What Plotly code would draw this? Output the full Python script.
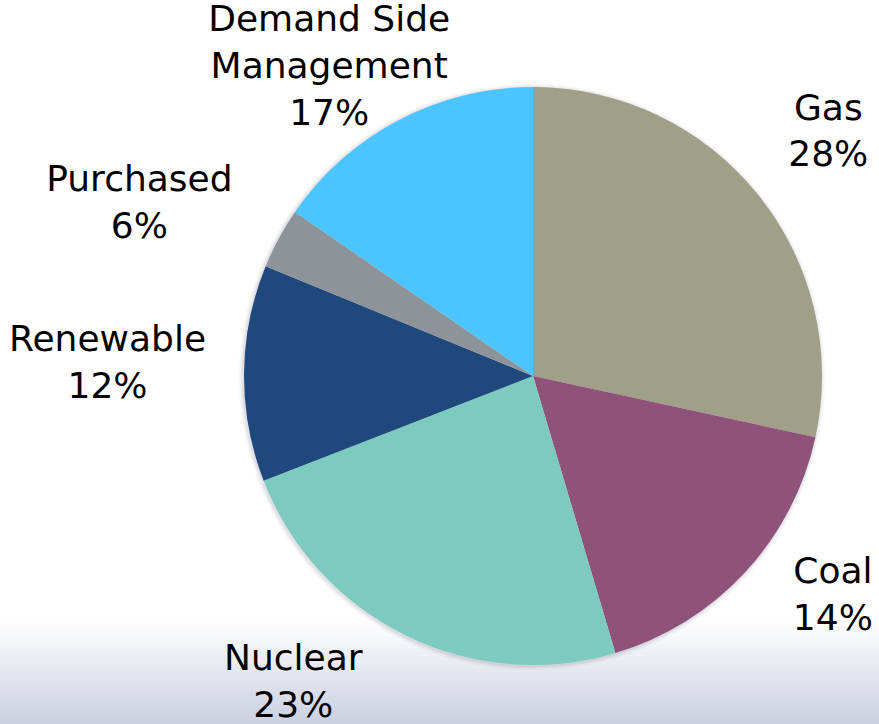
import plotly.graph_objects as go

# ---- data ----
categories = ["Gas", "Coal", "Nuclear", "Renewable", "Purchased", "Demand Side<br>Management"]
shares = [28.4, 17.0, 23.7, 12.1, 3.4, 15.4]          # visual slice sizes
pct_labels = ["28%", "14%", "23%", "12%", "6%", "17%"]  # printed labels
colors = ["#A09F88", "#8F527A", "#7DCBBF", "#1F487C", "#8E9399", "#4CC4FF"]

# ---- layout geometry (styles) ----
W, H = 879, 724
cx, cy, r = 533, 376, 289
label_gap = [30, 30, 30, 30, 30, -50]   # distance of each label ring from the pie edge
# per-label nudges (px right, px down) of the label ring centre
label_nudge = [(-15, -28), (4, -19), (-8, -17), (14, -11), (2, -12), (62, -46)]


def dom(rad, ox=0, oy=0):
    return dict(x=[(cx + ox - rad) / W, (cx + ox + rad) / W],
                y=[1 - (cy + oy + rad) / H, 1 - (cy + oy - rad) / H])


fig = go.Figure()

# soft shadow rings behind the pie
for extra, alpha in [(4, 0.05), (2.5, 0.06), (1.2, 0.08)]:
    fig.add_trace(go.Pie(values=[1], domain=dom(r + extra, -1, 1), sort=False,
                         marker=dict(colors=[f"rgba(90,90,110,{alpha})"], line=dict(width=0)),
                         textinfo="none", hoverinfo="skip", showlegend=False))

names = [c.replace("<br>", " ") for c in categories]

# visible pie
fig.add_trace(go.Pie(
    values=shares, labels=names,
    domain=dom(r), sort=False, direction="clockwise", rotation=0,
    marker=dict(colors=colors, line=dict(width=0)),
    textinfo="none", hoverinfo="label+percent", showlegend=False))

# transparent pies carrying the outside labels (one per label)
for i in range(len(shares)):
    txt = [f"{categories[i]}<br>{pct_labels[i]}" if j == i else "" for j in range(len(shares))]
    nx, ny = label_nudge[i]
    fig.add_trace(go.Pie(
        values=shares, labels=names, text=txt,
        domain=dom(r + label_gap[i], nx, ny), sort=False,
        direction="clockwise", rotation=0,
        marker=dict(colors=["rgba(0,0,0,0)"] * len(shares), line=dict(width=0)),
        textinfo="text", textposition="outside",
        textfont=dict(family="DejaVu Sans, Verdana, sans-serif", size=36, color="black"),
        hoverinfo="skip", showlegend=False))

# bottom gradient band
shapes = []
y0, y1 = 620, 724
n = 26
top_c = (255, 255, 255)
bot_c = (203, 207, 224)
for i in range(n):
    t = (i + 0.5) / n
    c = tuple(int(round(top_c[k] + (bot_c[k] - top_c[k]) * t)) for k in range(3))
    ya = y0 + (y1 - y0) * i / n
    yb = y0 + (y1 - y0) * (i + 1) / n + 0.5
    shapes.append(dict(type="rect", xref="paper", yref="paper", layer="below",
                       x0=0, x1=1, y0=1 - yb / H, y1=1 - ya / H,
                       line=dict(width=0), fillcolor=f"rgb{c}"))

fig.update_layout(width=W, height=H,
                  margin=dict(l=0, r=0, t=0, b=0, autoexpand=False),
                  paper_bgcolor="white", plot_bgcolor="white", shapes=shapes)

fig.write_html("out.html", config={"displayModeBar": False},
               post_script="document.body.style.margin='0px';"
                           "document.body.style.overflow='hidden';")
